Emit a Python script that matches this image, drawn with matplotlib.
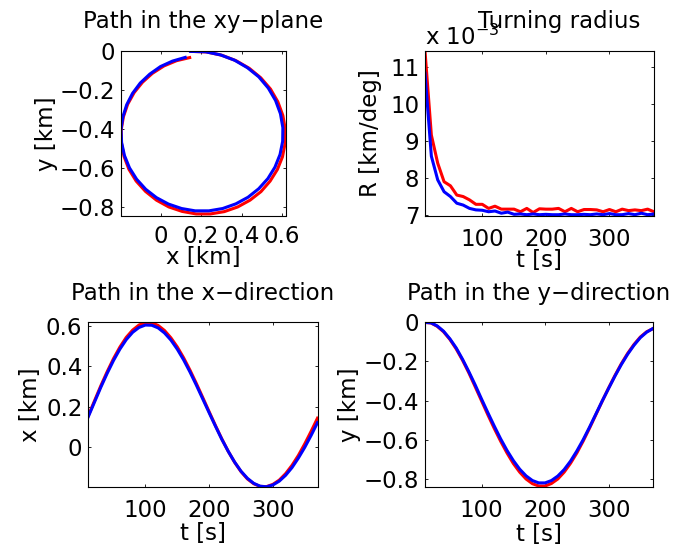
import matplotlib
matplotlib.use("Agg")
import matplotlib.pyplot as plt

plt.rcParams['font.family'] = ['DejaVu Sans']

# time [s]
t = [10, 20, 30, 40, 50, 60, 70, 80, 90, 100, 110, 120, 130, 140, 150, 160, 170, 180, 190,
     200, 210, 220, 230, 240, 250, 260, 270, 280, 290, 300, 310, 320, 330, 340, 350, 360, 370]

# x position [km]
x_red = [0.153, 0.228, 0.303, 0.373, 0.438, 0.495, 0.543, 0.579, 0.604, 0.616, 0.615, 0.602,
         0.577, 0.541, 0.496, 0.442, 0.381, 0.315, 0.246, 0.176, 0.107, 0.041, -0.020, -0.074,
         -0.120, -0.156, -0.180, -0.193, -0.194, -0.183, -0.162, -0.130, -0.089, -0.040, 0.017,
         0.079, 0.144]
x_blue = [0.148, 0.222, 0.296, 0.365, 0.429, 0.485, 0.532, 0.568, 0.592, 0.604, 0.603, 0.590,
          0.565, 0.530, 0.485, 0.432, 0.372, 0.307, 0.239, 0.171, 0.104, 0.039, -0.020, -0.073,
          -0.118, -0.153, -0.178, -0.192, -0.195, -0.186, -0.167, -0.138, -0.100, -0.053, 0.000,
          0.059, 0.122]

# y position [km]
y_red = [0.000, -0.003, -0.020, -0.048, -0.087, -0.136, -0.194, -0.259, -0.330, -0.402, -0.474,
         -0.543, -0.608, -0.668, -0.722, -0.766, -0.801, -0.825, -0.837, -0.837, -0.824, -0.801,
         -0.766, -0.721, -0.668, -0.607, -0.541, -0.472, -0.403, -0.336, -0.272, -0.212, -0.159,
         -0.113, -0.075, -0.048, -0.032]
y_blue = [0.000, -0.002, -0.018, -0.045, -0.084, -0.131, -0.189, -0.253, -0.321, -0.393, -0.463,
          -0.531, -0.596, -0.655, -0.707, -0.751, -0.785, -0.809, -0.821, -0.821, -0.809, -0.786,
          -0.753, -0.710, -0.658, -0.600, -0.536, -0.469, -0.402, -0.338, -0.275, -0.216, -0.163,
          -0.117, -0.078, -0.050, -0.031]

# turning radius [km/deg], in units of 1e-3
R_red = [11.42, 9.15, 8.39, 7.89, 7.78, 7.53, 7.49, 7.40, 7.28, 7.28, 7.17, 7.23, 7.15, 7.15,
         7.15, 7.08, 7.17, 7.06, 7.16, 7.15, 7.15, 7.17, 7.08, 7.17, 7.08, 7.14, 7.14, 7.13,
         7.08, 7.14, 7.08, 7.15, 7.11, 7.13, 7.11, 7.15, 7.08]
R_blue = [10.82, 8.58, 7.94, 7.62, 7.49, 7.31, 7.26, 7.17, 7.13, 7.12, 7.08, 7.10, 7.04, 7.07,
          7.01, 7.02, 7.00, 7.02, 7.00, 7.01, 7.00, 7.00, 7.02, 7.00, 7.00, 7.01, 7.00, 7.02,
          7.00, 7.03, 7.00, 7.00, 7.03, 7.00, 7.04, 7.00, 7.02]

W, H = 675, 551
fs = 16.5
fig = plt.figure(figsize=(W / 100, H / 100), dpi=100)

def make_axes(left, right, top, bottom):
    return fig.add_axes([left / W, (H - bottom) / H, (right - left) / W, (bottom - top) / H])

def style(ax, xpad):
    for s in ax.spines.values():
        s.set_linewidth(0.8)
    ax.tick_params(direction='in', length=2.5, width=0.6, top=True, right=True,
                   labelsize=fs)
    ax.tick_params(axis='x', pad=xpad)
    ax.tick_params(axis='y', pad=4)

def labels(ax, title, xl, yl, title_y, title_x, xl_y, yl_x):
    ax.text(title_x, title_y, title, transform=ax.transAxes, ha='center', va='baseline',
            fontsize=fs)
    ax.set_xlabel(xl, fontsize=fs, va='baseline')
    ax.xaxis.set_label_coords(0.5, xl_y)
    ax.set_ylabel(yl, fontsize=fs)
    ax.yaxis.set_label_coords(yl_x, 0.5)

lw = 2.2

# Path in the xy-plane
ax1 = make_axes(121, 285.7, 51, 215.5)
ax1.plot(x_red, y_red, color='red', lw=lw)
ax1.plot(x_blue, y_blue, color='blue', lw=lw)
ax1.set_xlim(-0.195, 0.618)
ax1.set_ylim(-0.845, 0.002)
ax1.set_xticks([0, 0.2, 0.4, 0.6])
ax1.set_xticklabels(['0', '0.2', '0.4', '0.6'])
ax1.set_yticks([-0.8, -0.6, -0.4, -0.2, 0])
ax1.set_yticklabels(['\u22120.8', '\u22120.6', '\u22120.4', '\u22120.2', '0'])
style(ax1, 6.5)
labels(ax1, 'Path in the xy\u2212plane', 'x [km]', 'y [km]', 1.140, 0.5, -0.295, -0.383)

# Turning radius
ax2 = make_axes(425, 654, 51, 216)
ax2.plot(t, R_red, color='red', lw=lw)
ax2.plot(t, R_blue, color='blue', lw=lw)
ax2.set_xlim(10, 370)
ax2.set_ylim(6.965, 11.42)
ax2.set_xticks([100, 200, 300])
ax2.set_yticks([7, 8, 9, 10, 11])
style(ax2, 8.5)
labels(ax2, 'Turning radius', 't [s]', 'R [km/deg]', 1.139, 0.585, -0.312, -0.188)
ax2.text(0.0, 1.036, 'x 10$^{-3}$', transform=ax2.transAxes, ha='left', va='baseline',
         fontsize=fs)

# Path in the x-direction
ax3 = make_axes(88, 317.5, 322, 487)
ax3.plot(t, x_red, color='red', lw=lw)
ax3.plot(t, x_blue, color='blue', lw=lw)
ax3.set_xlim(10, 370)
ax3.set_ylim(-0.196, 0.619)
ax3.set_xticks([100, 200, 300])
ax3.set_yticks([0, 0.2, 0.4, 0.6])
ax3.set_yticklabels(['0', '0.2', '0.4', '0.6'])
style(ax3, 8.5)
labels(ax3, 'Path in the x\u2212direction', 't [s]', 'x [km]', 1.133, 0.5, -0.322, -0.201)

# Path in the y-direction
ax4 = make_axes(424.5, 653, 322, 487)
ax4.plot(t, y_red, color='red', lw=lw)
ax4.plot(t, y_blue, color='blue', lw=lw)
ax4.set_xlim(10, 370)
ax4.set_ylim(-0.842, 0.002)
ax4.set_xticks([100, 200, 300])
ax4.set_yticks([-0.8, -0.6, -0.4, -0.2, 0])
ax4.set_yticklabels(['\u22120.8', '\u22120.6', '\u22120.4', '\u22120.2', '0'])
style(ax4, 8.5)
labels(ax4, 'Path in the y\u2212direction', 't [s]', 'y [km]', 1.133, 0.5, -0.325, -0.276)

fig.savefig('out.png', dpi=100)
